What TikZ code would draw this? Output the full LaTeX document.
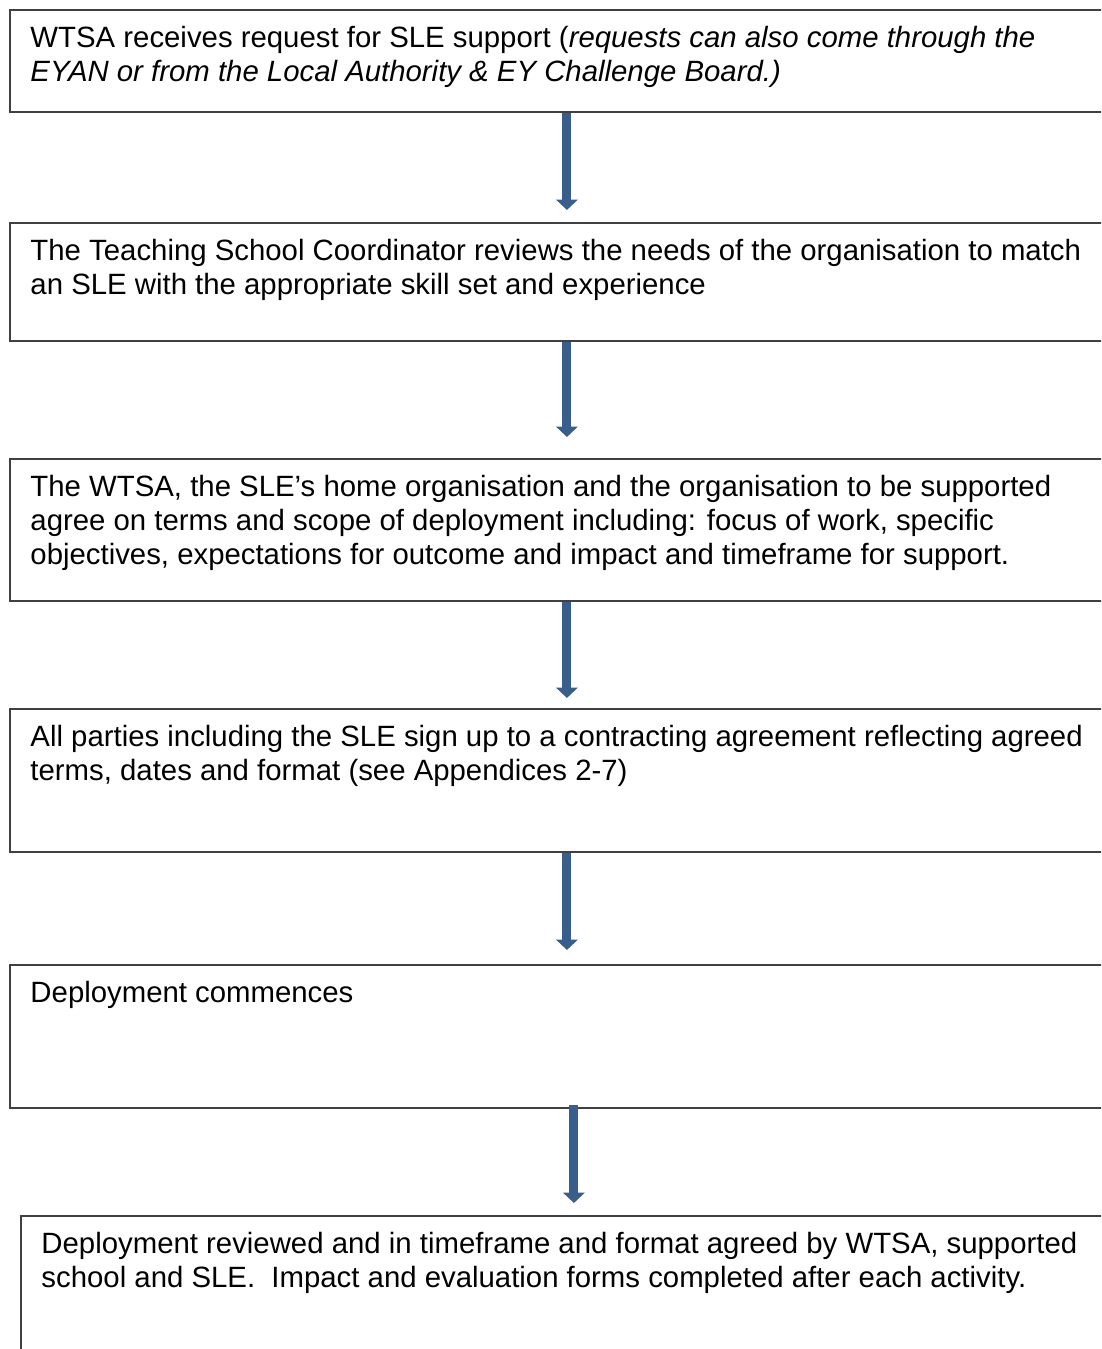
\documentclass[tikz,border=0pt]{standalone}
\usepackage{fontspec}
\setmainfont{Liberation Sans}
\usepackage{tikz}
\usetikzlibrary{arrows.meta, positioning}

\newdimen\pxu
\pxu=0.4065pt

\definecolor{flowblue}{RGB}{58,94,140}

\tikzset{
    stepbox/.style={draw=black!75, line width=0.75pt, rectangle, inner sep=0pt,
        anchor=north west, minimum width=1114\pxu},
    steptext/.style={anchor=north west, inner sep=0pt, align=left,
        font=\fontsize{11.93pt}{13.8pt}\selectfont},
    flowarrow/.style={flowblue, line width=3.7pt,
        -{Triangle[width=8.6pt, length=4.2pt]}}
}

\begin{document}
\begin{tikzpicture}[x=\pxu, y=-\pxu]

    % =================================================================
    % 1. KHUNG TRANG
    % =================================================================
    \useasboundingbox (0,0) rectangle (1101,1349);
    \clip (0,0) rectangle (1101,1349);

    % =================================================================
    % 2. CÁC HỘP BƯỚC
    % =================================================================
    \node[stepbox, minimum height=102\pxu] (b1) at (9,9) {};
    \node[stepbox, minimum height=118\pxu] (b2) at (9,222) {};
    \node[stepbox, minimum height=142\pxu] (b3) at (9,458) {};
    \node[stepbox, minimum height=143\pxu] (b4) at (9,708) {};
    \node[stepbox, minimum height=143\pxu] (b5) at (9,964) {};
    \node[stepbox, minimum height=170\pxu, minimum width=1106\pxu] (b6) at (20,1215) {};

    % =================================================================
    % 3. NỘI DUNG CHỮ
    % =================================================================
    \node[steptext] (t1) at ([shift={(21,14.7)}]b1.north west)
        {\strut WTSA receives request for SLE support (\textit{requests can also come through the}\\
         \textit{EYAN or from the Local Authority \& EY Challenge Board.)}};
    \node[steptext] (t2) at ([shift={(21,14.7)}]b2.north west)
        {\strut The Teaching School Coordinator reviews the needs of the organisation to match\\
         an SLE with the appropriate skill set and experience};
    \node[steptext] (t3) at ([shift={(21,14.7)}]b3.north west)
        {\strut The WTSA, the SLE’s home organisation and the organisation to be supported\\
         agree on terms and scope of deployment including: focus of work, specific\\
         objectives, expectations for outcome and impact and timeframe for support.};
    \node[steptext] (t4) at ([shift={(21,14.7)}]b4.north west)
        {\strut All parties including the SLE sign up to a contracting agreement reflecting agreed\\
         terms, dates and format (see Appendices 2-7)};
    \node[steptext] (t5) at ([shift={(21,14.7)}]b5.north west)
        {\strut Deployment commences};
    \node[steptext] (t6) at ([shift={(21,14.7)}]b6.north west)
        {\strut Deployment reviewed and in timeframe and format agreed by WTSA, supported\\
         school and SLE.\ \ Impact and evaluation forms completed after each activity.};

    % =================================================================
    % 4. MŨI TÊN NỐI CÁC BƯỚC
    % =================================================================
    \draw[flowarrow, shorten >=12\pxu] (b1.south) -- (b2.north);
    \draw[flowarrow, shorten >=21\pxu] (b2.south) -- (b3.north);
    \draw[flowarrow, shorten >=10\pxu] (b3.south) -- (b4.north);
    \draw[flowarrow, shorten >=14\pxu] (b4.south) -- (b5.north);
    \draw[flowarrow, shorten >=12\pxu, shorten <=-4\pxu] (b5.south -| b6.north) -- (b6.north);

\end{tikzpicture}
\end{document}
